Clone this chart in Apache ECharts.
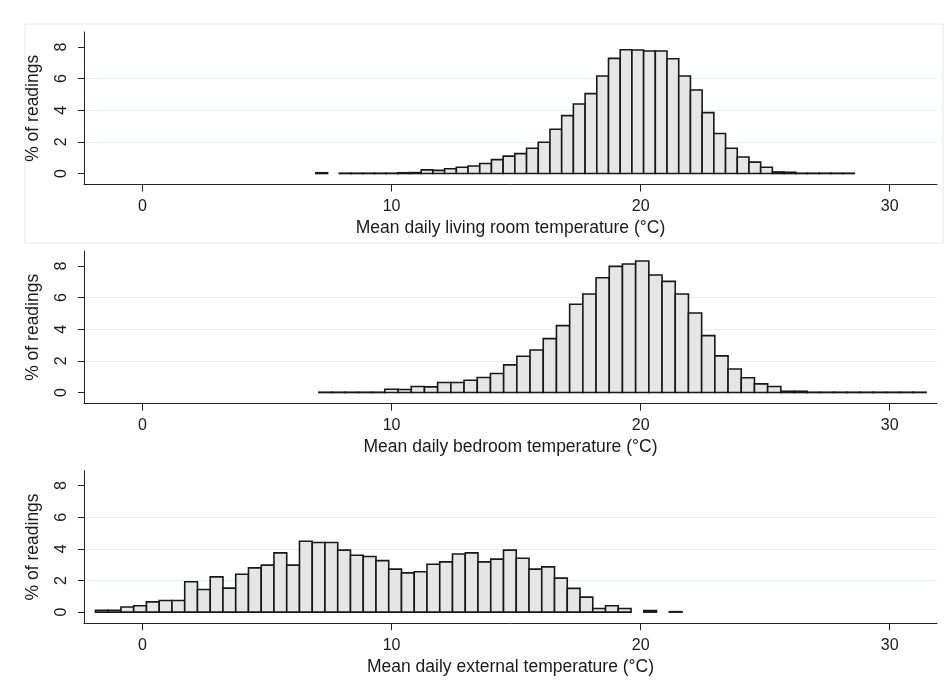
<!DOCTYPE html>
<html style="height: 100%">
<head>
    <meta charset="utf-8">
</head>
<body style="height: 100%; margin: 0; background: #fff">
    <div id="container" style="width: 946px; height: 690px"></div>
    <script src="https://cdn.jsdelivr.net/npm/echarts@6/dist/echarts.min.js"></script>
    <script type="text/javascript">
        // histogram bins: start of first bin and bin width (°C), 46 bins each
        var livingStart = 6.96, livingWidth = 0.470;
        var bedroomStart = 7.08, bedroomWidth = 0.530;
        var externalStart = -1.89, externalWidth = 0.512;

        // % of readings per bin
        var livingPct = [0.05, 0, 0.02, 0.02, 0.02, 0.02, 0.02, 0.05, 0.06, 0.23,
            0.2, 0.3, 0.4, 0.48, 0.63, 0.88, 1.1, 1.26, 1.6, 1.98,
            2.8, 3.66, 4.4, 5.05, 6.17, 7.28, 7.83, 7.81, 7.75, 7.75,
            7.26, 6.17, 5.28, 3.85, 2.53, 1.6, 1.05, 0.72, 0.4, 0.1,
            0.08, 0.02, 0.02, 0.02, 0.02, 0.02];
        var bedroomPct = [0.02, 0.02, 0.02, 0.02, 0.02, 0.21, 0.19, 0.38, 0.36, 0.63,
            0.63, 0.78, 0.95, 1.2, 1.75, 2.29, 2.69, 3.41, 4.23, 5.58,
            6.23, 7.26, 7.98, 8.13, 8.32, 7.43, 7.03, 6.23, 5.03, 3.6,
            2.32, 1.49, 0.93, 0.55, 0.38, 0.08, 0.08, 0.02, 0.02, 0.02,
            0.02, 0.02, 0.02, 0.02, 0.02, 0.02];
        var externalPct = [0.12, 0.12, 0.32, 0.4, 0.65, 0.74, 0.74, 1.92, 1.43, 2.23,
            1.52, 2.4, 2.8, 2.97, 3.75, 2.97, 4.48, 4.4, 4.4, 3.92,
            3.6, 3.52, 3.26, 2.72, 2.48, 2.55, 3.03, 3.18, 3.68, 3.75,
            3.18, 3.35, 3.92, 3.41, 2.72, 2.86, 2.15, 1.5, 0.95, 0.23,
            0.4, 0.23, 0, 0.1, 0, 0.03];

        var xTicks = [0, 10, 20, 30];
        var yTicks = [0, 2, 4, 6, 8];
        var xTitles = [
            'Mean daily living room temperature (°C)',
            'Mean daily bedroom temperature (°C)',
            'Mean daily external temperature (°C)'
        ];
        var yTitle = '% of readings';

        var panels = [
            { start: livingStart, width: livingWidth, pct: livingPct },
            { start: bedroomStart, width: bedroomWidth, pct: bedroomPct },
            { start: externalStart, width: externalWidth, pct: externalPct }
        ];
        var gridTops = [32, 251, 470.6];

        var font = '"Liberation Sans", Arial, sans-serif';
        var textColor = '#1a1a1a';

        function binData(p) {
            var res = [];
            for (var i = 0; i < p.pct.length; i++) {
                res.push([p.start + i * p.width, p.start + (i + 1) * p.width, p.pct[i]]);
            }
            return res;
        }

        function renderBar(params, api) {
            var h = api.value(2);
            if (!h) return null;
            var a = api.coord([api.value(0), h]);
            var b = api.coord([api.value(1), 0]);
            return {
                type: 'rect',
                shape: { x: a[0], y: a[1], width: b[0] - a[0], height: b[1] - a[1] },
                style: { fill: '#e6e6e6', stroke: '#181818', lineWidth: 1.6 }
            };
        }

        var grid = [], xAxis = [], yAxis = [], series = [];
        panels.forEach(function (p, k) {
            grid.push({ left: 84, right: 9, top: gridTops[k], height: 152.6 });
            xAxis.push({
                type: 'value', gridIndex: k, min: -2.35, max: 31.9,
                name: xTitles[k], nameLocation: 'middle', nameGap: 35,
                nameTextStyle: { fontFamily: font, fontSize: 17.5, color: textColor },
                axisLine: { onZero: false, lineStyle: { color: '#222', width: 1 } },
                axisTick: { customValues: xTicks, length: 7, lineStyle: { color: '#222' } },
                axisLabel: { customValues: xTicks, margin: 14, fontFamily: font, fontSize: 16, color: textColor },
                splitLine: { show: false }
            });
            yAxis.push({
                type: 'value', gridIndex: k, min: -0.7, max: 8.95,
                name: yTitle, nameLocation: 'middle', nameGap: 42,
                nameTextStyle: { fontFamily: font, fontSize: 17.5, color: textColor },
                axisLine: { show: true, onZero: false, lineStyle: { color: '#222', width: 1 } },
                axisTick: { show: true, customValues: yTicks, length: 6, lineStyle: { color: '#222' } },
                axisLabel: { customValues: yTicks, rotate: 90, margin: 14, fontFamily: font, fontSize: 16, color: textColor },
                splitLine: { show: true, showMinLine: false, showMaxLine: false, lineStyle: { color: '#e7eff1', width: 1.2 } }
            });
            series.push({
                type: 'custom', xAxisIndex: k, yAxisIndex: k,
                renderItem: renderBar,
                encode: { x: [0, 1], y: 2 },
                data: binData(p),
                silent: true
            });
        });

        var myChart = echarts.init(document.getElementById('container'));
        myChart.setOption({
            animation: false,
            backgroundColor: '#fff',
            graphic: [{
                type: 'rect', z: -1,
                shape: { x: 25, y: 24, width: 918, height: 219 },
                style: { fill: 'none', stroke: '#e3eaed', lineWidth: 1 }
            }],
            grid: grid,
            xAxis: xAxis,
            yAxis: yAxis,
            series: series
        });
    </script>
</body>
</html>
